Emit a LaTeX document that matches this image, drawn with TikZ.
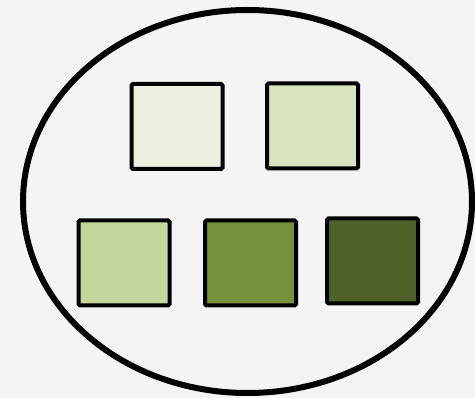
\documentclass[tikz,border=0pt]{standalone}
\usepackage{tikz}
\usetikzlibrary{shapes.geometric,positioning}
\definecolor{PaperGray}{RGB}{244, 244, 245}
\definecolor{OliveA}{RGB}{235, 241, 222}
\definecolor{OliveB}{RGB}{215, 228, 188}
\definecolor{OliveC}{RGB}{195, 214, 155}
\definecolor{OliveD}{RGB}{118, 146, 60}
\definecolor{OliveE}{RGB}{79, 98, 40}

\begin{document}
\begin{tikzpicture}[x=1pt, y=-1pt,
    tile/.style={draw=black, line width=4pt, rounded corners=1.5pt,
      minimum width=91pt, minimum height=85pt, inner sep=0pt},
    ring/.style={draw=black, line width=6pt, ellipse, inner sep=0pt,
      minimum width=449pt, minimum height=383pt}]
    \fill[PaperGray] (0,0) rectangle (475,398);
    \useasboundingbox (0,0) rectangle (475,398);
    \node[ring] (set) at (247.5, 201.5) {};
    \foreach \name/\x/\y/\col in {t1/177/126.5/OliveA, t2/312.5/126/OliveB,
        b1/124/263/OliveC, b2/250.5/263/OliveD, b3/372.5/261/OliveE} {
      \node[tile, fill=\col] (\name) at (\x, \y) {};
    }
  \end{tikzpicture}
\end{document}
